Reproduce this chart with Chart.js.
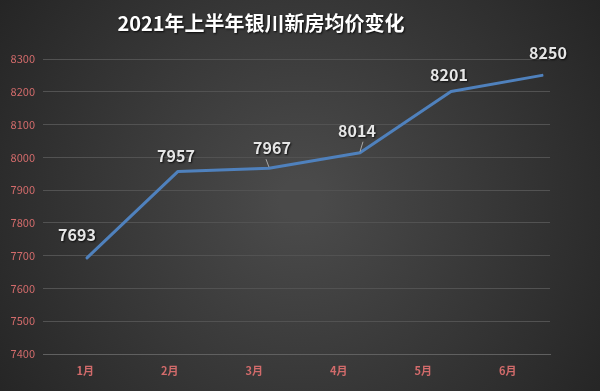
<!DOCTYPE html>
<html>
<head>
<meta charset="utf-8">
<script src="https://cdn.jsdelivr.net/npm/chart.js"></script>
<style>
  html, body { margin: 0; padding: 0; background: #333; }
  #wrap { width: 600px; height: 391px; }
</style>
</head>
<body>
<div id="wrap"><canvas id="myChart" width="600" height="391"></canvas></div>
<script>
// data
const months = ['1月', '2月', '3月', '4月', '5月', '6月'];
const prices = [7693, 7957, 7967, 8014, 8201, 8250];
const yTicks = [7400, 7500, 7600, 7700, 7800, 7900, 8000, 8100, 8200, 8300];
const title = '2021年上半年银川新房均价变化';

// label offsets from each point (px), and whether a leader line is drawn
const labelOffsets = [[-10, -23], [-2, -16], [3, -20], [-3, -22], [-2, -17], [6, -22]];
const leaders = [false, false, true, true, false, false];

const bgPlugin = {
  id: 'bg',
  beforeDraw(chart) {
    const ctx = chart.ctx;
    const g = ctx.createRadialGradient(300, 200, 20, 300, 200, 380);
    g.addColorStop(0, '#4a4a4a');
    g.addColorStop(1, '#232323');
    ctx.save();
    ctx.fillStyle = g;
    ctx.fillRect(0, 0, chart.width, chart.height);
    ctx.restore();
  }
};

const textPlugin = {
  id: 'texts',
  afterDatasetsDraw(chart) {
    const ctx = chart.ctx;
    ctx.save();
    // title
    ctx.font = 'bold 20px "Noto Sans CJK SC"';
    ctx.textAlign = 'center';
    ctx.textBaseline = 'middle';
    ctx.shadowColor = 'rgba(0,0,0,0.8)';
    ctx.shadowOffsetX = 1;
    ctx.shadowOffsetY = 1;
    ctx.shadowBlur = 2;
    ctx.fillStyle = '#ffffff';
    ctx.fillText(title, 261, 23);

    // value labels
    const pts = chart.getDatasetMeta(0).data;
    ctx.font = 'bold 16px "Noto Sans CJK SC"';
    pts.forEach((p, i) => {
      const lx = p.x + labelOffsets[i][0];
      const ly = p.y + labelOffsets[i][1];
      ctx.fillStyle = '#e6e6e6';
      ctx.fillText(String(prices[i]), lx, ly);
      if (leaders[i]) {
        ctx.save();
        ctx.shadowColor = 'transparent';
        ctx.strokeStyle = '#a6a6a6';
        ctx.lineWidth = 1;
        ctx.beginPath();
        ctx.moveTo(lx - 6 * Math.sign(labelOffsets[i][0]), ly + 11);
        ctx.lineTo(p.x, p.y - 1);
        ctx.stroke();
        ctx.restore();
      }
    });
    ctx.restore();
  }
};

const ctx = document.getElementById('myChart').getContext('2d');
new Chart(ctx, {
  type: 'line',
  data: {
    labels: months,
    datasets: [{
      data: prices.map((v, i) => ({ x: i, y: v })),
      xAxisID: 'x',
      borderColor: '#4f81bd',
      borderWidth: 3,
      pointRadius: 0,
      tension: 0,
      borderJoinStyle: 'round',
      borderCapStyle: 'round'
    }]
  },
  options: {
    responsive: false,
    animation: false,
    layout: { padding: { top: 59, right: 50, left: 0, bottom: 0 } },
    plugins: { legend: { display: false }, tooltip: { enabled: false } },
    scales: {
      x: {
        type: 'linear',
        display: false,
        min: -0.4835,
        max: 5.088
      },
      x2: {
        type: 'category',
        labels: months,
        offset: true,
        position: 'bottom',
        grid: { display: false, drawTicks: false },
        border: { display: true, color: '#606060', width: 1 },
        ticks: {
          color: '#d26b6b',
          font: { family: '"Noto Sans CJK SC"', size: 11, weight: 'bold' },
          padding: 10,
          maxRotation: 0
        },
        afterFit(scale) { scale.height = 37; }
      },
      y: {
        min: 7400,
        max: 8300,
        afterBuildTicks(scale) { scale.ticks = yTicks.map(v => ({ value: v })); },
        grid: { color: '#525252', lineWidth: 1, drawTicks: false },
        border: { display: false },
        ticks: {
          color: '#d26b6b',
          font: { family: '"Noto Sans CJK SC"', size: 11 },
          padding: 8,
          callback: v => String(v)
        },
        afterFit(scale) { scale.width = 43; }
      }
    }
  },
  plugins: [bgPlugin, textPlugin]
});
</script>
</body>
</html>
